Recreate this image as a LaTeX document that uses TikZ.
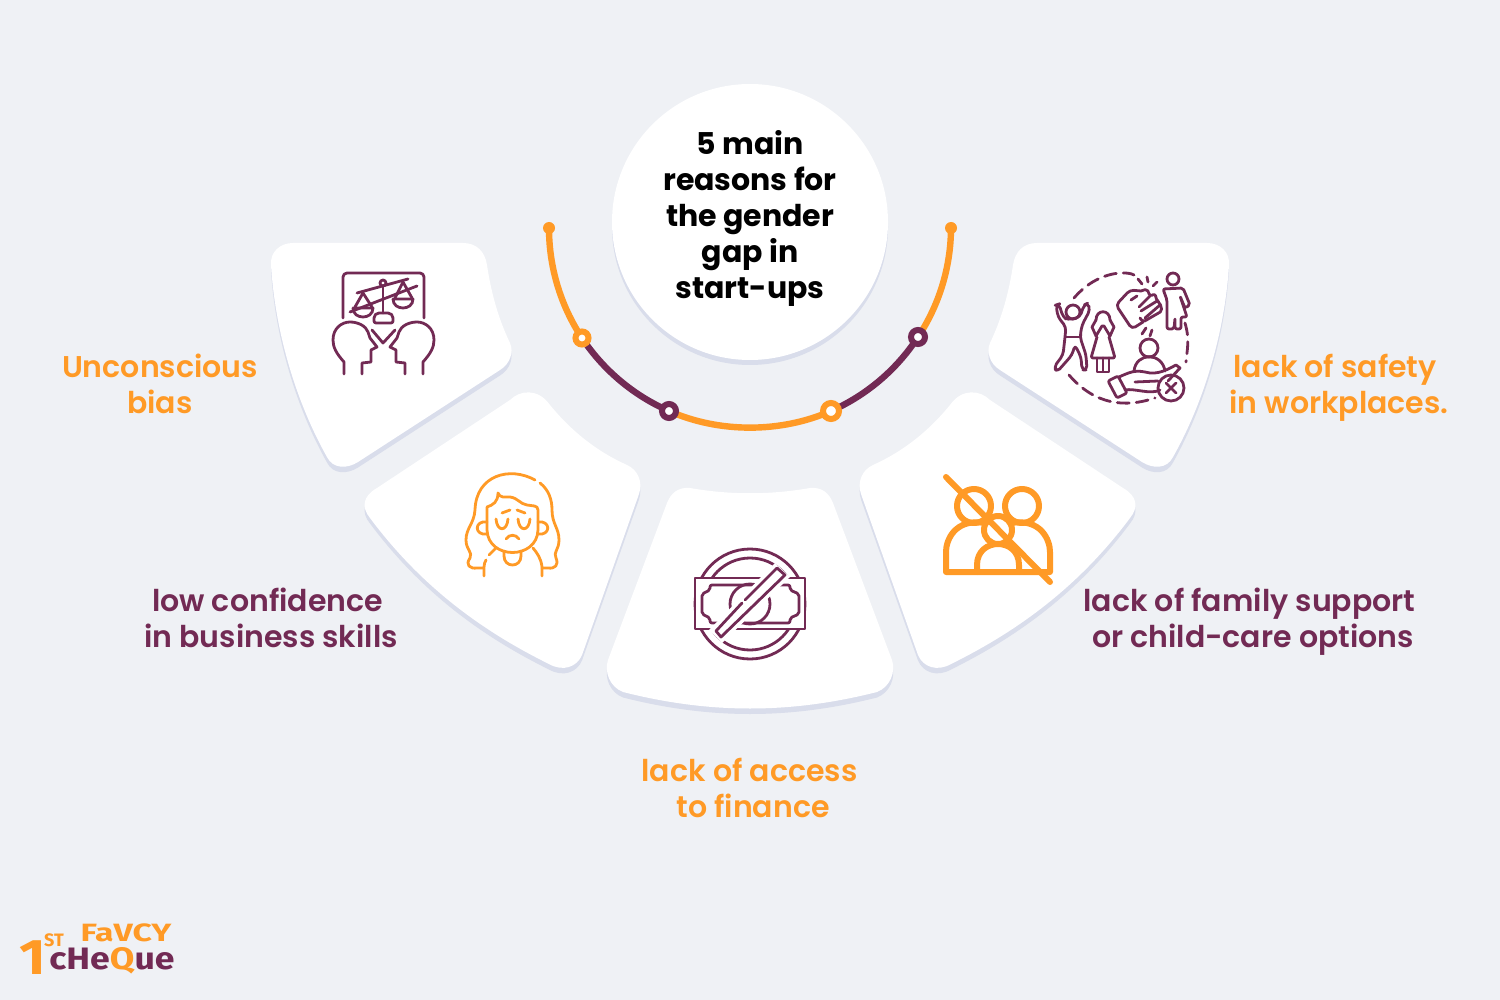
\documentclass[tikz,border=0pt]{standalone}
\usepackage{fontspec}
\usetikzlibrary{backgrounds}
\setmainfont{Poppins}[UprightFont=* SemiBold,BoldFont=* Bold]
\newfontfamily\logofont{Fira Sans}
\definecolor{pagebg}{HTML}{EFF1F5}
\definecolor{cardshade}{HTML}{D9DDEB}
\definecolor{plum}{HTML}{722A54}
\definecolor{amber}{HTML}{FF9A26}
\newcommand{\cardtop}{(293,243) -- (463,243) .. controls (477,243) and (485,252) .. (487,265)
	.. controls (491,292) and (498,318) .. (510,343)
	.. controls (514,352) and (510,364) .. (500,370)
	-- (358,462) .. controls (347,469) and (333,469) .. (327,457)
	.. controls (295,400) and (275,330) .. (271,265)
	.. controls (270,252) and (280,243) .. (293,243) -- cycle}
\newcommand{\cardlow}{(510,400) .. controls (520,390) and (538,388) .. (550,405)
	.. controls (572,432) and (598,452) .. (627,465)
	.. controls (638,470) and (643,482) .. (639,494)
	-- (582,655) .. controls (577,667) and (563,672) .. (549,664)
	.. controls (480,630) and (420,585) .. (370,518)
	.. controls (361,507) and (363,496) .. (377,488) -- cycle}
\newcommand{\cardmid}{(667,503) .. controls (671,493) and (678,487) .. (690,488)
	.. controls (730,495) and (770,495) .. (810,488)
	.. controls (822,487) and (829,493) .. (833,503)
	-- (892,660) .. controls (896,672) and (890,687) .. (877,692)
	.. controls (790,714) and (710,714) .. (623,692)
	.. controls (610,687) and (604,672) .. (608,660) -- cycle}
\begin{document}
\begin{tikzpicture}
	[x=0.5pt,y=-0.5pt,
	plumline/.style={draw=plum,line width=1.4pt,line cap=round,line join=round},
	amberline/.style={draw=amber,line width=1.4pt,line cap=round,line join=round},
	familyline/.style={draw=amber,line width=3pt,line cap=round,line join=round},
	shade/.style={fill=cardshade,yshift=-2.75pt},
	label/.style={font=\fontsize{15}{18}\selectfont,align=center,inner sep=0pt},
	ring/.style={circle,fill=white,inner sep=0pt,line width=3pt},
	trackend/.style={circle,fill=amber,inner sep=0pt,minimum size=6pt},
	track/.style={line width=3.2pt,bend right=#1,looseness=0.87},
	logotext/.style={font=\logofont\bfseries\fontsize{#1}{#1}\selectfont,inner sep=0pt}]

	% Track nodes, the arcs go behind them
	\node[trackend] (endL) at (549,228) {};
	\node[trackend] (endR) at (951,228) {};
	\node[ring,draw=amber,minimum size=6.5pt] (stopA) at (582,338) {};
	\node[ring,draw=plum,minimum size=7pt] (stopB) at (669,411) {};
	\node[ring,draw=amber,minimum size=8pt] (stopC) at (831,411) {};
	\node[ring,draw=plum,minimum size=7pt] (stopD) at (918,337) {};

	\begin{pgfonlayer}{background}
		\fill[pagebg] (0,0) rectangle (1500,1000);
		\draw[amber,track=16.75] (endL.center) to (stopA.center);
		\draw[plum,track=16.35] (stopA.center) to (stopB.center);
		\draw[amber,track=23.8] (stopB.center) to (stopC.center);
		\draw[plum,track=16.5] (stopC.center) to (stopD.center);
		\draw[amber,track=16.6] (stopD.center) to (endR.center);
	\end{pgfonlayer}
	\useasboundingbox (0,0) rectangle (1500,1000);

	% Draw cards
	\fill[shade] \cardtop;
	\fill[shade] \cardlow;
	\fill[shade] \cardmid;
	\begin{scope}[shift={(1500,0)},xscale=-1]
		\fill[shade] \cardtop;
		\fill[shade] \cardlow;
	\end{scope}
	\fill[white] \cardtop;
	\fill[white] \cardlow;
	\fill[white] \cardmid;
	\begin{scope}[shift={(1500,0)},xscale=-1]
		\fill[white] \cardtop;
		\fill[white] \cardlow;
	\end{scope}

	% Centre circle
	\fill[cardshade] (750,227) circle (138);
	\fill[white] (750,222) circle (138);
	\node[label,font=\fontsize{15}{18}\selectfont\bfseries] (title) at (750,218)
		{5 main\\reasons for\\the gender\\gap in\\start-ups};

	% Labels
	\node[label,text=amber] (bias) at (160,384) {Unconscious\\bias};
	\node[label,text=plum] (skills) at (271,618) {low confidence\hspace*{3.5pt}\\in business skills};
	\node[label,text=amber] (finance) at (753,788) {lack of access\hspace*{3.5pt}\\to finance};
	\node[label,text=plum] (family) at (1253,622) {lack of family support\hspace*{3.5pt}\\or child-care options};
	\node[label,text=amber] (safety) at (1339,388) {lack of safety\hspace*{4pt}\\in workplaces.};

	% Icon: scales and two heads
	\begin{scope}[plumline]
		\draw[rounded corners=2pt] (343,318) -- (343,273) -- (424,273) -- (424,318);
		\draw (383,283) circle (3);
		\draw (357,293) -- (408,279);
		\draw (350,312) -- (417,286);
		\draw (383,287) -- (383,313);
		\draw[rounded corners=1pt] (374,323) -- (374,316) -- (377,313) -- (390,313) -- (393,316) -- (393,323) -- cycle;
		\draw (355,307) -- (363,293) -- (372,307);
		\draw (353,308) -- (373,308) .. controls (373,320) and (353,320) .. (353,308);
		\draw (395,298) -- (403,282) -- (412,298);
		\draw (393,299) -- (413,299) .. controls (413,311) and (393,311) .. (393,299);
		\draw (344,374) -- (344,362) .. controls (336,353) and (333,347) .. (333,340)
			.. controls (333,328) and (342,322) .. (350,322)
			.. controls (358,322) and (366,326) .. (368,332)
			-- (370,338) -- (377,347) -- (371,350) -- (371,362) -- (362,363) -- (362,374);
		\draw (423,374) -- (423,362) .. controls (431,353) and (434,347) .. (434,340)
			.. controls (434,328) and (425,322) .. (417,322)
			.. controls (409,322) and (401,326) .. (399,332)
			-- (397,338) -- (390,347) -- (396,350) -- (396,362) -- (405,363) -- (405,374);
		\draw (372,330) -- (383,343) -- (395,330);
	\end{scope}

	% Icon: sad woman
	\begin{scope}[amberline]
		\draw (535,480) .. controls (510,466) and (476,475) .. (475,510)
			.. controls (474,524) and (466,528) .. (466,540)
			.. controls (466,550) and (473,552) .. (470,558)
			.. controls (465,565) and (470,569) .. (477,568) -- (483,568);
		\draw (540,483) .. controls (549,490) and (552,500) .. (552,510)
			.. controls (552,524) and (559,528) .. (559,540)
			.. controls (559,550) and (553,552) .. (556,558)
			.. controls (559,565) and (555,569) .. (548,568) -- (542,568);
		\draw (487,507) -- (487,530) .. controls (488,560) and (537,560) .. (538,530) -- (538,510)
			.. controls (538,505) and (532,506) .. (527,505)
			.. controls (520,504) and (518,498) .. (510,497)
			.. controls (504,497) and (500,498) .. (498,493)
			.. controls (498,502) and (493,505) .. (487,507);
		\draw (487,522) .. controls (474,520) and (474,536) .. (487,534);
		\draw (538,522) .. controls (551,520) and (551,536) .. (538,534);
		\draw (496,519) .. controls (497,532) and (507,532) .. (508,519);
		\draw (518,519) .. controls (519,532) and (529,532) .. (530,519);
		\draw (502,513) -- (510,510);
		\draw (517,510) -- (525,513);
		\draw (506,539) .. controls (509,534) and (516,534) .. (519,539);
		\draw (504,551) -- (504,556) .. controls (504,568) and (521,568) .. (521,556) -- (521,551);
		\draw (484,576) -- (484,567) .. controls (484,564) and (485,562) .. (486,560);
		\draw (489,555) -- (496,548);
		\draw (542,576) -- (542,567) .. controls (541,558) and (537,553) .. (533,548);
	\end{scope}

	% Icon: banknote crossed out
	\begin{scope}[plumline]
		\draw (750,604) circle (55);
		\draw (750,604) circle (46);
		\draw[fill=white] (695,578) rectangle (805,629);
		\draw[rounded corners=1pt] (710,585) -- (790,585) -- (790,590) -- (799,594) -- (799,614) -- (790,618) -- (790,623)
			-- (710,623) -- (710,618) -- (702,614) -- (702,594) -- (710,590) -- cycle;
		\draw (750,604) circle (20);
		\fill[white] (775,563) -- (790,577) -- (722,643) -- (709,630) -- cycle;
		\draw (777,568) -- (745,600);
		\draw (742,603) -- (716,631) -- (721,637) -- (785,575) -- (777,568);
	\end{scope}

	% Icon: family crossed out
	\begin{scope}[familyline]
		\draw (974,506) circle (17);
		\draw (1022,506) circle (17);
		\draw (998,530) circle (14);
		\draw (985,523) .. controls (955,518) and (946,540) .. (946,552) -- (946,572) -- (1050,572) -- (1050,552)
			.. controls (1050,540) and (1041,518) .. (1011,523);
		\draw (977,572) -- (977,565) .. controls (977,537) and (1019,537) .. (1019,565) -- (1019,572);
		\draw (946,477) -- (1050,582);
	\end{scope}

	% Icon: unsafe workplace
	\begin{scope}[plumline]
		\draw[dash pattern=on 6pt off 3.5pt] (1074,298) .. controls (1100,268) and (1130,272) .. (1134,275);
		\draw[dash pattern=on 6pt off 3.5pt] (1185,323) .. controls (1190,340) and (1187,350) .. (1186,362);
		\draw[dash pattern=on 6pt off 3.5pt] (1069,375) .. controls (1095,405) and (1125,408) .. (1155,398);
		\draw (1073,312) circle (7);
		\draw[rounded corners=2pt] (1059,304) -- (1056,305) -- (1058,317) -- (1066,327) -- (1065,337) -- (1063,355)
			-- (1054,367) -- (1057,372) -- (1072,355) -- (1075,345) -- (1081,357) -- (1082,370) -- (1087,370)
			-- (1086,355) -- (1080,337) -- (1082,325) -- (1090,310) -- (1088,303) -- (1084,305) -- (1080,317)
			-- (1068,320) -- (1063,317) -- cycle;
		\draw (1066,337) -- (1080,337);
		% crying girl
		\draw (1096,320) .. controls (1096,309) and (1110,309) .. (1110,320);
		\draw (1096,320) -- (1092,327) -- (1096,336) -- (1102,326) -- (1104,326) -- (1110,336) -- (1114,327) -- (1110,320);
		\draw[rounded corners=1pt] (1097,337) -- (1091,358) -- (1115,358) -- (1109,337);
		\draw (1097,358) -- (1097,372) -- (1103,372) -- (1103,358);
		\draw (1103,372) -- (1109,372) -- (1109,358);
		% fist
		\draw[rounded corners=2pt] (1141,291) -- (1130,290) -- (1116,305) -- (1132,329) -- (1143,322);
		\draw[rounded corners=1pt] (1141,291) -- (1147,289) -- (1150,296) -- (1155,294) -- (1157,301) -- (1160,303) -- (1162,311) -- (1143,322) -- (1140,318);
		\draw (1139,307) -- (1150,296);
		\draw (1141,311) -- (1157,301);
		\draw (1145,318) -- (1160,305);
		\draw (1131,300) -- (1137,296);
		\draw (1142,284) -- (1138,279);
		\draw (1148,282) -- (1147,277);
		\draw (1153,286) -- (1157,282);
		\draw (1146,328) -- (1142,334);
		\draw (1152,330) -- (1150,336);
		% standing person
		\draw (1173,279) circle (6);
		\draw[rounded corners=1pt] (1163,289) -- (1183,288) -- (1190,305) -- (1185,308) -- (1180,296) -- (1187,317) -- (1181,317) -- (1181,329)
			-- (1175,329) -- (1175,318) -- (1174,329) -- (1167,329) -- (1167,300) -- cycle;
		% person on the hand
		\draw (1149,348) circle (9);
		\draw (1134,371) .. controls (1136,352) and (1162,352) .. (1165,371);
		\draw[rounded corners=1pt] (1108,381) -- (1118,376) -- (1127,393) -- (1117,398) -- cycle;
		\draw (1119,377) .. controls (1130,372) and (1135,370) .. (1145,372)
			.. controls (1158,376) and (1170,368) .. (1176,365) -- (1180,368) -- (1168,381);
		\draw (1125,390) .. controls (1135,388) and (1150,395) .. (1160,390);
		\draw (1135,382) -- (1158,381);
		\draw (1171,388) circle (13);
		\draw (1166,383) -- (1176,393);
		\draw (1176,383) -- (1166,393);
	\end{scope}

	% Logo
	\node[text=amber,logotext=12.5] (logoFavcy) at (126,933) {\scalebox{1.35}[1]{FaVCY}};
	\node[text=amber,logotext=25] (logoOne) at (33,958) {\scalebox{1.15}[1]{1}};
	\node[text=amber,logotext=9] (logoSt) at (54,940) {ST};
	\node[text=plum,logotext=15.5] (logoCheque) at (112,961) {\scalebox{1.15}[1]{cHe\textcolor{amber}{Q}ue}};
\end{tikzpicture}
\end{document}
